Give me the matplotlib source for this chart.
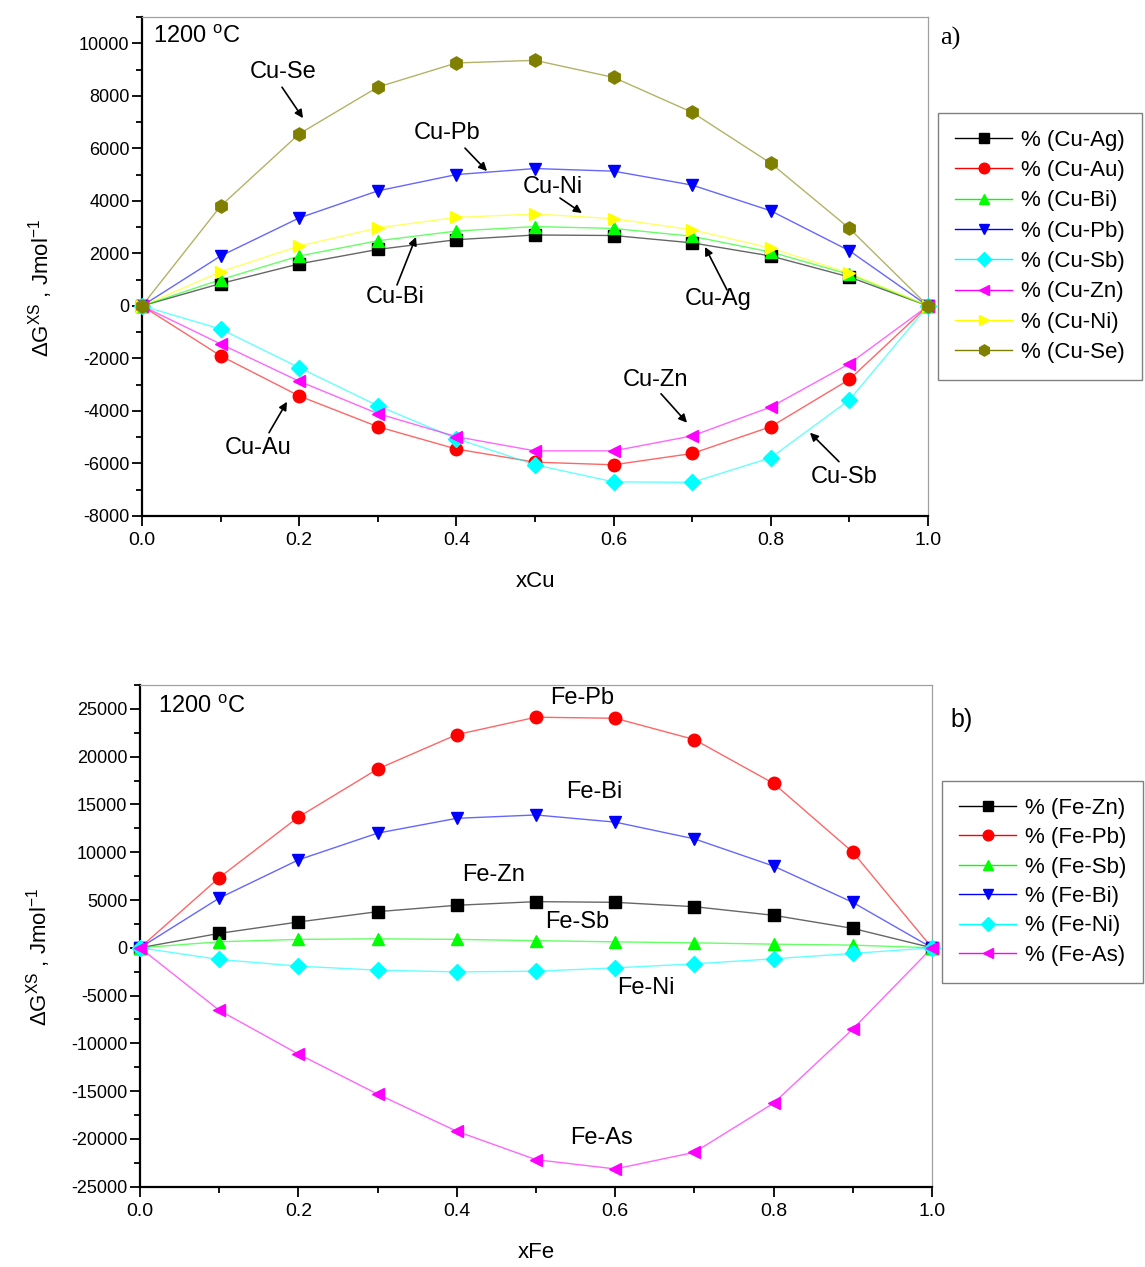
import matplotlib
matplotlib.use("Agg")
import matplotlib.pyplot as plt
from matplotlib.ticker import MultipleLocator

plt.rcParams['font.family'] = ['Liberation Sans', 'DejaVu Sans']
plt.rcParams['mathtext.fontset'] = 'custom'
plt.rcParams['mathtext.rm'] = 'Liberation Sans'
plt.rcParams['mathtext.it'] = 'Liberation Sans'
plt.rcParams['axes.unicode_minus'] = False

# ---------------- data ----------------
x = [0.0, 0.1, 0.2, 0.3, 0.4, 0.5, 0.6, 0.7, 0.8, 0.9, 1.0]

cu_labels = ['% (Cu-Ag)', '% (Cu-Au)', '% (Cu-Bi)', '% (Cu-Pb)',
             '% (Cu-Sb)', '% (Cu-Zn)', '% (Cu-Ni)', '% (Cu-Se)']
cu_ag = [0, 850, 1600, 2150, 2520, 2700, 2680, 2400, 1900, 1100, 0]
cu_au = [0, -1900, -3430, -4600, -5450, -5950, -6050, -5620, -4600, -2800, 0]
cu_bi = [0, 1000, 1900, 2480, 2850, 3020, 2950, 2650, 2050, 1200, 0]
cu_pb = [0, 1900, 3350, 4380, 5000, 5230, 5130, 4600, 3620, 2100, 0]
cu_sb = [0, -880, -2350, -3800, -5050, -6050, -6700, -6720, -5780, -3580, 0]
cu_zn = [0, -1450, -2870, -4100, -4980, -5520, -5520, -4950, -3850, -2200, 0]
cu_ni = [0, 1300, 2280, 2970, 3370, 3500, 3320, 2900, 2200, 1250, 0]
cu_se = [0, 3800, 6550, 8330, 9250, 9350, 8700, 7370, 5430, 2950, 0]

fe_labels = ['% (Fe-Zn)', '% (Fe-Pb)', '% (Fe-Sb)', '% (Fe-Bi)',
             '% (Fe-Ni)', '% (Fe-As)']
fe_zn = [0, 1510, 2700, 3780, 4450, 4830, 4760, 4300, 3400, 2030, 0]
fe_pb = [0, 7340, 13680, 18710, 22310, 24130, 24020, 21790, 17200, 10010, 0]
fe_sb = [0, 630, 880, 940, 880, 750, 620, 520, 380, 280, 0]
fe_bi = [0, 5200, 9200, 12000, 13550, 13900, 13150, 11400, 8550, 4750, 0]
fe_ni = [0, -1220, -1920, -2340, -2520, -2450, -2100, -1680, -1150, -590, 0]
fe_as = [0, -6540, -11120, -15310, -19200, -22170, -23140, -21400, -16260, -8500, 0]

cu_series = [cu_ag, cu_au, cu_bi, cu_pb, cu_sb, cu_zn, cu_ni, cu_se]
fe_series = [fe_zn, fe_pb, fe_sb, fe_bi, fe_ni, fe_as]

# ---------------- style ----------------
cu_colors = ['#000000', '#ff0000', '#00ff00', '#0000ff', '#00ffff', '#ff00ff', '#ffff00', '#808000']
cu_markers = ['s', 'o', '^', 'v', 'D', '<', '>', 'h']
cu_msize = [8, 9, 9, 9, 8, 9, 9, 9.5]
fe_colors = ['#000000', '#ff0000', '#00ff00', '#0000ff', '#00ffff', '#ff00ff']
fe_markers = ['s', 'o', '^', 'v', 'D', '<']
fe_msize = [8, 9, 9, 9, 8, 9]

W, H = 1145, 1267
fig = plt.figure(figsize=(W / 100, H / 100), dpi=100)
fig.patch.set_facecolor('white')

XTICK_FS = 14
YTICK_FS = 13
LABEL_FS = 16
ANN_FS = 17
LEG_FS = 16


def style_axes(ax):
    for s in ['top', 'right']:
        ax.spines[s].set_color('#a0a0a0')
        ax.spines[s].set_linewidth(0.9)
    for s in ['left', 'bottom']:
        ax.spines[s].set_color('black')
        ax.spines[s].set_linewidth(1.6)
    ax.tick_params(which='both', direction='out', top=False, right=False, width=1.3)
    ax.tick_params(axis='y', labelsize=YTICK_FS, pad=1.5)
    ax.tick_params(axis='x', labelsize=XTICK_FS, pad=4)
    ax.tick_params(which='major', length=7.5)
    ax.tick_params(which='minor', length=4)
    ax.set_xlim(0, 1)
    ax.xaxis.set_major_locator(MultipleLocator(0.2))
    ax.xaxis.set_minor_locator(MultipleLocator(0.1))
    ax.xaxis.set_major_formatter(plt.FuncFormatter(lambda v, p: f"{v:.1f}"))


def plot_series(ax, series, colors, markers, sizes, labels):
    handles = []
    for ys, c, m, ms, lab in zip(series, colors, markers, sizes, labels):
        ax.plot(x, ys, color=c, lw=1.0, alpha=0.6, zorder=2, clip_on=False)
        ax.plot(x, ys, ls='none', marker=m, ms=ms, color=c, mec=c, zorder=3, clip_on=False)
        h, = ax.plot([], [], color=c, lw=1.0, marker=m, ms=ms * 0.85, mfc=c, mec=c)
        h.set_label(lab)
        handles.append(h)
    return handles


def arrow(ax, tail, head):
    ax.annotate('', xy=head, xytext=tail,
                arrowprops=dict(arrowstyle='-|>', color='black', lw=1.2,
                                mutation_scale=12, shrinkA=0, shrinkB=0))


def make_legend(ax, handles, left_px, top_px, spacing):
    leg = ax.legend(handles=handles, loc='upper left',
                    bbox_to_anchor=(left_px / W, 1 - top_px / H),
                    bbox_transform=fig.transFigure, borderaxespad=0, fontsize=LEG_FS,
                    handlelength=2.6, handletextpad=0.4, labelspacing=spacing,
                    borderpad=0.75, fancybox=False, edgecolor='#808080', numpoints=1,
                    framealpha=1)
    leg.get_frame().set_linewidth(1.0)
    return leg


# ---------------- top panel ----------------
ax1 = fig.add_axes([142 / W, 1 - 516 / H, 786 / W, 499 / H])
style_axes(ax1)
ax1.set_ylim(-8000, 11000)
ax1.yaxis.set_major_locator(MultipleLocator(2000))
ax1.yaxis.set_minor_locator(MultipleLocator(1000))
h1 = plot_series(ax1, cu_series, cu_colors, cu_markers, cu_msize, cu_labels)


def p1(px, py):
    return ((px - 142) / 786, (306 - py) * 2000 / 52.6)


ax1.text(*p1(197, 37), '1200 $^{\\mathrm{o}}$C', fontsize=ANN_FS, ha='center', va='center')
ann1 = [
    ('Cu-Se', (283, 72), (282, 87), (303, 118)),
    ('Cu-Pb', (447, 133), (465, 148), (487, 171)),
    ('Cu-Ni', (553, 187), (560, 198), (582, 213)),
    ('Cu-Bi', (395, 297), (397, 285), (416, 237)),
    ('Cu-Ag', (718, 299), (727, 290), (705, 247)),
    ('Cu-Au', (258, 448), (269, 433), (287, 402)),
    ('Cu-Zn', (656, 380), (661, 394), (687, 423)),
    ('Cu-Sb', (844, 477), (839, 462), (810, 433)),
]
for txt, tp, tail, head in ann1:
    ax1.text(*p1(*tp), txt, fontsize=ANN_FS, ha='center', va='center')
    arrow(ax1, p1(*tail), p1(*head))

ax1.set_xlabel('xCu', fontsize=LABEL_FS)
ax1.xaxis.set_label_coords(0.5, -(571 - 516) / 499)
ax1.set_ylabel('ΔG$^{\\mathrm{XS}}$ , Jmol$^{\\mathrm{-1}}$', fontsize=LABEL_FS)
ax1.yaxis.set_label_coords((55 - 142) / 786, (516 - 288) / 499)

make_legend(ax1, h1, 938, 113, 0.42)
fig.text(950 / W, 1 - 38 / H, 'a)', fontsize=19, family='Liberation Serif',
         ha='center', va='center')

# ---------------- bottom panel ----------------
ax2 = fig.add_axes([140 / W, 1 - 1186.7 / H, 792 / W, 501.7 / H])
style_axes(ax2)
ax2.set_ylim(-25000, 27500)
ax2.yaxis.set_major_locator(MultipleLocator(5000))
ax2.yaxis.set_minor_locator(MultipleLocator(2500))
h2 = plot_series(ax2, fe_series, fe_colors, fe_markers, fe_msize, fe_labels)


def p2(px, py):
    return ((px - 140) / 792, (947.7 - py) * 104.9)


ax2.text(*p2(202, 707), '1200 $^{\\mathrm{o}}$C', fontsize=ANN_FS, ha='center', va='center')
for txt, tp in [('Fe-Pb', (582, 699)), ('Fe-Bi', (594, 792)), ('Fe-Zn', (494, 875)),
                ('Fe-Sb', (577, 922)), ('Fe-Ni', (646, 988)), ('Fe-As', (602, 1137))]:
    ax2.text(*p2(*tp), txt, fontsize=ANN_FS, ha='center', va='center')

ax2.set_xlabel('xFe', fontsize=LABEL_FS)
ax2.xaxis.set_label_coords(0.5, -(1242 - 1186.7) / 501.7)
ax2.set_ylabel('ΔG$^{\\mathrm{XS}}$ , Jmol$^{\\mathrm{-1}}$', fontsize=LABEL_FS)
ax2.yaxis.set_label_coords((53 - 140) / 792, (1186.7 - 957) / 501.7)

make_legend(ax2, h2, 942, 781, 0.38)
fig.text(962 / W, 1 - 720 / H, 'b)', fontsize=18, ha='center', va='center')

fig.savefig('out.png', dpi=100, facecolor='white')
